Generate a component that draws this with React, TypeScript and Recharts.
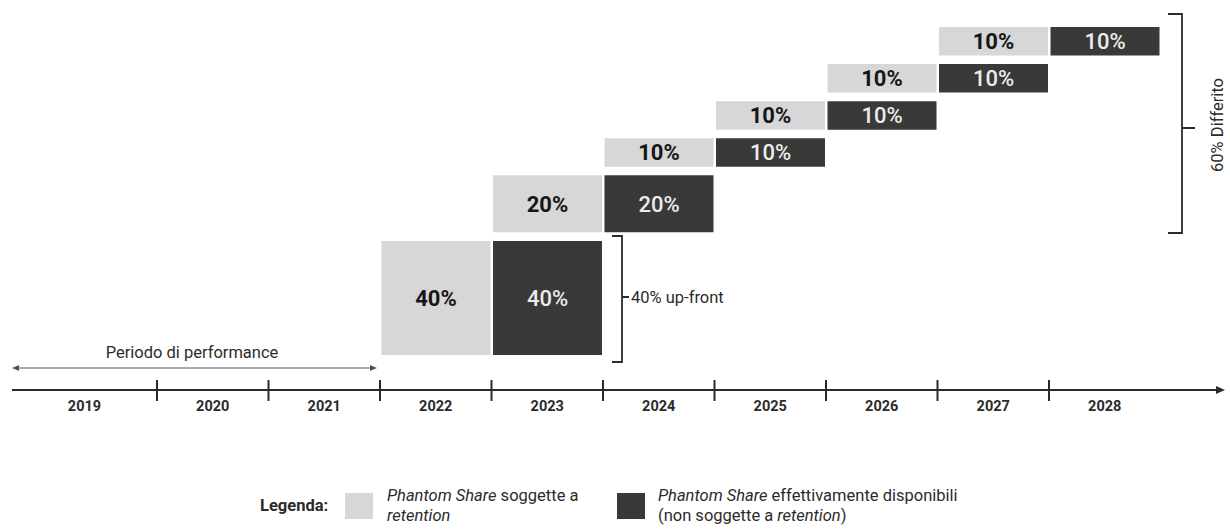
import React from 'react';
import { BarChart, Bar, XAxis, YAxis, LabelList, Customized } from 'recharts';

// anni sull'asse
const years = ['2019', '2020', '2021', '2022', '2023', '2024', '2025', '2026', '2027', '2028'];
// quota assegnata e soggetta a retention (grigio chiaro), per anno
const retentionShare = [0, 0, 0, 40, 20, 10, 10, 10, 10, 0];
// stessa quota, disponibile l'anno dopo (grigio scuro)
const availableShare = [0, 0, 0, 0, 40, 20, 10, 10, 10, 10];
const GAP = 3; // spazio verticale tra gradini

const LIGHT = '#d7d7d7';
const DARK = '#393939';
const INK = '#2b2b2b';
const FONT = 'Roboto, "Noto Sans", sans-serif';

const W = 1222;
const H = 420;
const M = { top: 19, right: 69.5, left: 37.5, bottom: 3 };
const BAND = (W - M.left - M.right) / years.length;
const AXIS_Y = 382;
const AXIS_X0 = 4;
const AXIS_X1 = 1217;

// righe impilate: base invisibile, scuro, spazio invisibile, chiaro
let bottom = 0;
const data = years.map((year, i) => {
  const dark = availableShare[i];
  const light = retentionShare[i];
  const row = { year, base: bottom, dark, gap: dark && light ? GAP : 0, light };
  bottom = bottom + dark + (dark ? GAP : 0);
  return row;
});
const yMax = Math.max(...data.map((d) => d.base + d.dark + d.gap + d.light));

const pct = (v: any) => (v ? `${v}%` : '');

function YearTick(props: any) {
  const { x, payload, index } = props;
  const left = x - BAND / 2;
  const cx = index === 0 ? (AXIS_X0 + left + BAND) / 2 : x;
  return (
    <g>
      {index > 0 && (
        <line x1={left} x2={left} y1={AXIS_Y - 10} y2={AXIS_Y + 11} stroke={INK} strokeWidth={2} />
      )}
      <text x={cx} y={AXIS_Y + 21} textAnchor="middle" fontSize={14.5} fontWeight={700} fill={INK} fontFamily={FONT}>
        {payload.value}
      </text>
    </g>
  );
}

function Decor() {
  return (
    <g fontFamily={FONT}>
      {/* asse temporale con freccia */}
      <line x1={AXIS_X0} x2={AXIS_X1 - 6} y1={AXIS_Y} y2={AXIS_Y} stroke={INK} strokeWidth={2} />
      <polygon points={`${AXIS_X1},${AXIS_Y} ${AXIS_X1 - 9},${AXIS_Y - 4} ${AXIS_X1 - 9},${AXIS_Y + 4}`} fill={INK} />

      {/* periodo di performance */}
      <line x1={8} x2={365} y1={360} y2={360} stroke="#555" strokeWidth={1.2} />
      <polygon points="4,360 11,357 11,363" fill="#555" />
      <polygon points="369,360 362,357 362,363" fill="#555" />
      <text x={184} y={350} textAnchor="middle" fontSize={16.5} fill={INK}>Periodo di performance</text>

      {/* parentesi 40% up-front */}
      <path d="M604,228 H614 V354 H604 M614,289 H621" fill="none" stroke={INK} strokeWidth={1.8} />
      <text x={623} y={295} fontSize={16.5} fill={INK}>40% up-front</text>

      {/* parentesi 60% differito */}
      <path d="M1160,6 H1174 V225 H1160 M1174,120 H1187" fill="none" stroke={INK} strokeWidth={1.8} />
      <text
        x={0}
        y={0}
        textAnchor="middle"
        dominantBaseline="central"
        fontSize={16.5}
        fill={INK}
        transform="translate(1209 117) rotate(-90)"
      >
        60% Differito
      </text>
    </g>
  );
}

const legendText: React.CSSProperties = {
  position: 'absolute',
  top: 478,
  fontSize: 16.5,
  lineHeight: '20px',
  color: INK,
  fontFamily: FONT,
  whiteSpace: 'nowrap',
};

export default function App() {
  return (
    <div style={{ position: 'absolute', left: 0, top: 0, width: 1230, height: 529, overflow: 'hidden' }}>
      <div style={{ position: 'absolute', left: 8, top: 8, width: W, height: 513, fontFamily: FONT }}>
        <BarChart width={W} height={H} data={data} margin={M} barCategoryGap={1.5}>
          <XAxis dataKey="year" axisLine={false} tickLine={false} height={70} interval={0} tick={<YearTick />} />
          <YAxis hide domain={[0, yMax]} />
          <Bar dataKey="base" stackId="s" fill="none" isAnimationActive={false} />
          <Bar dataKey="dark" stackId="s" fill={DARK} isAnimationActive={false}>
            <LabelList dataKey="dark" position="center" formatter={pct} fill="#ececec" fontSize={22} fontWeight={500} fontFamily={FONT} />
          </Bar>
          <Bar dataKey="gap" stackId="s" fill="none" isAnimationActive={false} />
          <Bar dataKey="light" stackId="s" fill={LIGHT} isAnimationActive={false}>
            <LabelList dataKey="light" position="center" formatter={pct} fill="#161616" fontSize={22} fontWeight={700} fontFamily={FONT} />
          </Bar>
          <Customized component={Decor} />
        </BarChart>

        <div style={{ ...legendText, left: 252, top: 488, fontWeight: 700, fontSize: 16.5 }}>Legenda:</div>
        <div style={{ position: 'absolute', left: 337, top: 485, width: 28, height: 26, background: LIGHT }} />
        <div style={{ ...legendText, left: 379 }}>
          <i>Phantom Share</i> soggette a
          <br />
          <i>retention</i>
        </div>
        <div style={{ position: 'absolute', left: 609, top: 485, width: 28, height: 26, background: DARK }} />
        <div style={{ ...legendText, left: 650 }}>
          <i>Phantom Share</i> effettivamente disponibili
          <br />
          (non soggette a <i>retention</i>)
        </div>
      </div>
    </div>
  );
}
